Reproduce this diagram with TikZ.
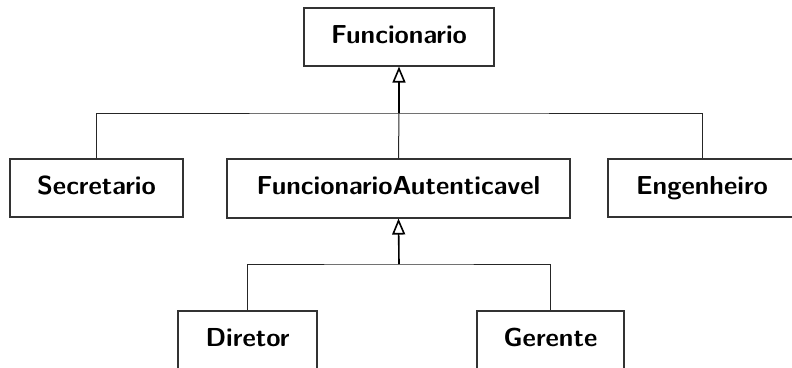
\documentclass[tikz,border=0pt]{standalone}
\usepackage{fontspec}
\usetikzlibrary{arrows.meta}
\tikzset{
  cls/.style={draw=black!80, line width=1.1pt, fill=white, inner sep=0pt,
    minimum height=58pt, text height=18pt, text depth=6pt,
    font=\sffamily\bfseries\fontsize{26}{30}\selectfont},
  trunk/.style={draw=black, line width=1.6pt,
    -{Triangle[open, length=16pt, width=13pt]}},
  branch/.style={draw=black!85, line width=1pt}
}
\begin{document}
\begin{tikzpicture}[x=1pt, y=-1pt]
  \useasboundingbox (0,0) rectangle (792,367);
  \clip (0,0) rectangle (792,367);

  % class boxes
  \node[cls, minimum width=190pt] (fun) at (399,37) {Funcionario};
  \node[cls, minimum width=173pt] (sec) at (96.5,188) {Secretario};
  \node[cls, minimum width=343pt, minimum height=59pt] (fa) at (398.5,188.5) {FuncionarioAutenticavel};
  \node[cls, minimum width=188pt] (eng) at (702,188) {Engenheiro};
  \node[cls, minimum width=139pt] (dir) at (247.5,340) {Diretor};
  \node[cls, minimum width=147pt] (ger) at (550.5,340) {Gerente};

  % junction points of the inheritance trees
  \coordinate (b1) at (399,113);
  \coordinate (b2) at (399,264);

  % Funcionario and its subclasses
  \draw[branch] (sec.north) |- (b1) -| (eng.north);
  \draw[branch] (fa.north) -- (b1);
  \draw[trunk] (b1) -- (fun.south);

  % FuncionarioAutenticavel and its subclasses
  \draw[branch] (dir.north) |- (b2) -| (ger.north);
  \draw[trunk] (b2) -- (fa.south);
\end{tikzpicture}
\end{document}
